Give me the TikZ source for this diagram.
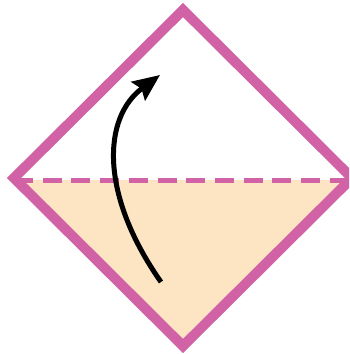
\documentclass[tikz,border=0pt]{standalone}
\usetikzlibrary{arrows.meta}
\definecolor{pinkline}{HTML}{D062A5}
\definecolor{paperfill}{HTML}{FDE4C3}
\tikzset{
  border/.style={draw=pinkline, line width=10pt, line join=miter},
  foldline/.style={draw=pinkline, line width=5pt, dash pattern=on 19pt off 9.7pt},
  movearrow/.style={draw=black, line width=5pt, -{Stealth[length=27pt,width=23pt,inset=4pt]}}
}
\begin{document}
\begin{tikzpicture}[x=1pt,y=-1pt]
\path[use as bounding box] (0,0) rectangle (349,354);
\clip (0,0) rectangle (349,354);
\coordinate (T) at (183,10);
\coordinate (L) at (14,178);
\coordinate (R) at (352,178);
\coordinate (B) at (183,346);
\coordinate (FL) at (14,180.5);
\coordinate (FR) at (352,180.5);
\begin{scope}
  \clip (0,180.5) rectangle (360,360);
  \fill[paperfill] (T) -- (R) -- (B) -- (L) -- cycle;
\end{scope}
\draw[foldline] (FL) -- (FR);
\draw[border] (T) -- (R) -- (B) -- (L) -- cycle;
\coordinate (As) at (161,282);
\coordinate (Ae) at (160,75);
\draw[movearrow] (As) .. controls (100,195) and (102,118) .. (Ae);
\end{tikzpicture}
\end{document}
